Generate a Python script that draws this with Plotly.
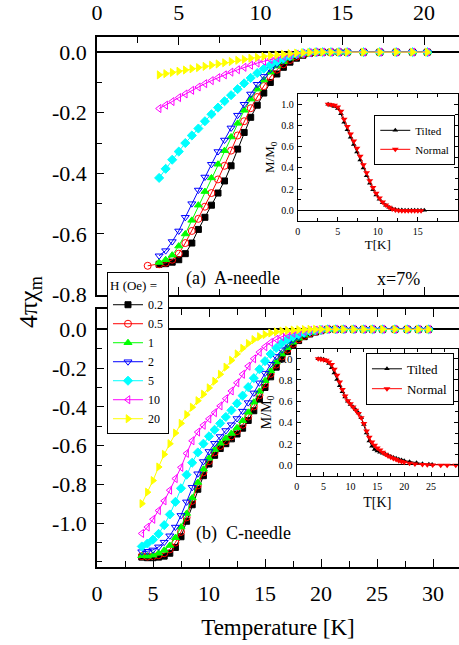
import plotly.graph_objects as go

# ---------------- data ----------------
fields = ["0.2", "0.5", "1", "2", "5", "10", "20"]

# (a) A-needle, temperature grid [K]
T_A = [3.8, 4.2, 4.6, 5.0, 5.4, 5.8, 6.2, 6.6, 7.0, 7.4, 7.8, 8.2, 8.6, 9.0, 9.4,
       9.8, 10.2, 10.6, 11.0, 11.4, 11.8, 12.2, 12.6, 13.0, 13.4,
       13.8, 14.3, 14.8, 15.3, 16.3, 17.3, 18.3, 19.3, 20.2]
T_A05 = [3.1] + T_A

A_02 = [-0.700, -0.698, -0.693, -0.685, -0.665, -0.630, -0.585, -0.545, -0.505, -0.465,
        -0.425, -0.375, -0.320, -0.265, -0.215, -0.175, -0.135, -0.100, -0.072, -0.050,
        -0.033, -0.020, -0.010, -0.004, -0.001, 0, 0, 0, 0, 0, 0, 0, 0, 0]
A_05 = [-0.705, -0.700, -0.695, -0.685, -0.665, -0.630, -0.590, -0.550, -0.510, -0.465,
        -0.420, -0.375, -0.325, -0.275, -0.228, -0.185, -0.148, -0.112, -0.082, -0.058,
        -0.040, -0.026, -0.015, -0.007, -0.003, -0.001, 0, 0, 0, 0, 0, 0, 0, 0, 0]
A_1 = [-0.694, -0.685, -0.670, -0.640, -0.600, -0.555, -0.505, -0.460, -0.415, -0.370,
       -0.325, -0.280, -0.235, -0.192, -0.155, -0.122, -0.092, -0.066, -0.046, -0.031,
       -0.020, -0.011, -0.005, -0.002, 0.0, 0, 0, 0, 0, 0, 0, 0, 0, 0]
A_2 = [-0.672, -0.655, -0.625, -0.590, -0.545, -0.500, -0.455, -0.412, -0.370, -0.328,
       -0.290, -0.250, -0.208, -0.172, -0.138, -0.106, -0.080, -0.057, -0.040, -0.027,
       -0.017, -0.010, -0.005, -0.002, 0.0, 0, 0, 0, 0, 0, 0, 0, 0, 0]
A_5 = [-0.415, -0.385, -0.355, -0.328, -0.300, -0.275, -0.252, -0.228, -0.205, -0.183,
       -0.162, -0.142, -0.122, -0.103, -0.085, -0.069, -0.055, -0.042, -0.031, -0.021,
       -0.013, -0.007, -0.003, -0.001, 0.0, 0, 0, 0, 0, 0, 0, 0, 0, 0]
A_10 = [-0.186, -0.175, -0.163, -0.150, -0.138, -0.126, -0.115, -0.104, -0.094, -0.084,
        -0.075, -0.066, -0.058, -0.050, -0.043, -0.036, -0.030, -0.024, -0.019, -0.014,
        -0.010, -0.007, -0.004, -0.002, 0.0, 0, 0, 0, 0, 0, 0, 0, 0, 0]
A_20 = [-0.075, -0.071, -0.067, -0.063, -0.059, -0.055, -0.051, -0.047, -0.043, -0.039,
        -0.035, -0.031, -0.027, -0.024, -0.020, -0.017, -0.014, -0.011, -0.009, -0.007,
        -0.005, -0.003, -0.002, -0.001, 0.0, 0, 0, 0, 0, 0, 0, 0, 0, 0]

# (b) C-needle, temperature grid [K]
T_C = [4.0, 4.5, 5.0, 5.5, 6.0, 6.5, 7.0, 7.5, 8.0, 8.5, 9.0, 9.5, 10.0, 10.5, 11.0,
       11.5, 12.0, 12.5, 13.0, 13.5, 14.0, 14.5, 15.0, 15.5, 16.0, 16.5, 17.0, 17.5,
       18.0, 18.5, 19.0, 19.5, 20.0,
       20.6, 21.3, 22.0, 22.9, 23.8, 24.6, 25.5, 26.6, 27.7, 28.7, 29.6]

C_02 = [-1.175, -1.178, -1.178, -1.175, -1.170, -1.155, -1.125, -1.070, -0.990, -0.905,
        -0.825, -0.755, -0.695, -0.650, -0.615, -0.590, -0.565, -0.540, -0.510, -0.470,
        -0.420, -0.360, -0.300, -0.245, -0.195, -0.152, -0.115, -0.083, -0.058, -0.038,
        -0.024, -0.014, -0.007, 0, 0, 0, 0, 0, 0, 0, 0, 0, 0, 0]
C_05 = [-1.170, -1.172, -1.170, -1.165, -1.155, -1.135, -1.100, -1.045, -0.970, -0.885,
        -0.805, -0.738, -0.680, -0.635, -0.602, -0.577, -0.552, -0.525, -0.492, -0.450,
        -0.398, -0.340, -0.283, -0.230, -0.182, -0.140, -0.105, -0.075, -0.052, -0.034,
        -0.021, -0.012, -0.006, 0, 0, 0, 0, 0, 0, 0, 0, 0, 0, 0]
C_1 = [-1.168, -1.170, -1.165, -1.155, -1.140, -1.115, -1.075, -1.020, -0.950, -0.870,
       -0.790, -0.722, -0.665, -0.620, -0.588, -0.562, -0.537, -0.508, -0.472, -0.428,
       -0.376, -0.320, -0.265, -0.214, -0.168, -0.128, -0.095, -0.067, -0.046, -0.030,
       -0.018, -0.010, -0.005, 0, 0, 0, 0, 0, 0, 0, 0, 0, 0, 0]
C_2 = [-1.147, -1.145, -1.138, -1.122, -1.098, -1.065, -1.020, -0.960, -0.890, -0.815,
       -0.745, -0.682, -0.630, -0.588, -0.553, -0.522, -0.492, -0.460, -0.422, -0.378,
       -0.328, -0.276, -0.226, -0.180, -0.140, -0.105, -0.077, -0.055, -0.038, -0.025,
       -0.015, -0.008, -0.004, 0, 0, 0, 0, 0, 0, 0, 0, 0, 0, 0]
C_5 = [-1.120, -1.105, -1.085, -1.055, -1.010, -0.955, -0.890, -0.820, -0.750, -0.688,
       -0.635, -0.590, -0.552, -0.518, -0.485, -0.452, -0.418, -0.382, -0.342, -0.298,
       -0.252, -0.206, -0.164, -0.127, -0.096, -0.071, -0.052, -0.037, -0.026, -0.017,
       -0.010, -0.006, -0.003, 0, 0, 0, 0, 0, 0, 0, 0, 0, 0, 0]
C_10 = [-1.053, -1.020, -0.980, -0.935, -0.885, -0.830, -0.770, -0.712, -0.640, -0.575,
        -0.530, -0.495, -0.462, -0.430, -0.395, -0.358, -0.318, -0.276, -0.232, -0.190,
        -0.152, -0.118, -0.090, -0.068, -0.051, -0.038, -0.028, -0.020, -0.014, -0.010,
        -0.006, -0.004, -0.002, 0, 0, 0, 0, 0, 0, 0, 0, 0, 0, 0]
C_20 = [-0.899, -0.840, -0.780, -0.710, -0.645, -0.590, -0.535, -0.485, -0.440, -0.402,
        -0.368, -0.335, -0.302, -0.268, -0.232, -0.195, -0.160, -0.127, -0.098, -0.073,
        -0.053, -0.038, -0.027, -0.019, -0.013, -0.009, -0.006, -0.004, -0.002, -0.001,
        0.0, 0.0, 0.0, 0, 0, 0, 0, 0, 0, 0, 0, 0, 0, 0]

# inset (a): normalised magnetisation
TI_A_norm = [3.8, 4.2, 4.6, 5.0, 5.4, 5.8, 6.2, 6.6, 7.0, 7.4, 7.8, 8.2, 8.6, 9.0, 9.4,
             9.8, 10.2, 10.6, 11.0, 11.4, 11.8, 12.2, 12.6, 13.0, 13.4, 13.8, 14.2,
             14.6, 15.0, 15.4]
MI_A_norm = [1.00, 0.995, 0.99, 0.975, 0.935, 0.86, 0.79, 0.72, 0.655, 0.585, 0.51, 0.43,
             0.355, 0.28, 0.215, 0.16, 0.115, 0.078, 0.05, 0.028, 0.013, 0.004, -0.002,
             -0.004, -0.005, -0.005, -0.005, -0.005, -0.005, -0.004]
TI_A_tilt = [3.8, 4.2, 4.6, 5.0, 5.4, 5.8, 6.2, 6.6, 7.0, 7.4, 7.8, 8.2, 8.6, 9.0, 9.4,
             9.8, 10.2, 10.6, 11.0, 11.4, 11.8, 12.2, 12.6, 13.0, 13.4, 13.8, 14.2,
             14.6, 15.0, 15.4, 15.8]
MI_A_tilt = [1.00, 0.99, 0.98, 0.96, 0.91, 0.83, 0.76, 0.69, 0.62, 0.55, 0.475, 0.40,
             0.325, 0.255, 0.195, 0.145, 0.105, 0.072, 0.047, 0.028, 0.015, 0.008, 0.004,
             0.002, 0.001, 0.0, 0.0, 0.0, 0.0, 0.0, 0.0]

# inset (b)
TI_C_norm = [4.0, 4.5, 5.0, 5.5, 6.0, 6.5, 7.0, 7.5, 8.0, 8.5, 9.0, 9.5, 10.0, 10.5,
             11.0, 11.5, 12.0, 12.5, 13.0, 13.5, 14.0, 14.5, 15.0, 15.5, 16.0, 16.5,
             17.0, 17.5, 18.0, 18.5, 19.0, 19.5, 20.0,
             21.0, 22.0, 23.4, 24.3, 25.3, 26.8, 28.0, 29.6]
MI_C_norm = [1.00, 0.995, 0.99, 0.985, 0.97, 0.945, 0.90, 0.845, 0.78, 0.71, 0.65, 0.605,
             0.575, 0.545, 0.515, 0.485, 0.445, 0.39, 0.32, 0.26, 0.215, 0.185, 0.16,
             0.14, 0.12, 0.10, 0.085, 0.072, 0.06, 0.05, 0.04, 0.032, 0.025,
             0.015, 0.008, 0.004, 0.002, 0.0, -0.003, -0.003, -0.003]
TI_C_tilt = [4.0, 4.5, 5.0, 5.5, 6.0, 6.5, 7.0, 7.5, 8.0, 8.5, 9.0, 9.5, 10.0, 10.5,
             11.0, 11.5, 12.0, 12.5, 13.0, 13.5, 14.0, 14.5, 15.0, 15.5, 16.0, 16.5,
             17.0, 17.5, 18.0, 18.5, 19.0, 19.5, 20.0,
             21.0, 22.3, 23.4, 24.6, 25.2]
MI_C_tilt = [1.00, 1.00, 0.995, 0.98, 0.955, 0.915, 0.865, 0.805, 0.745, 0.69, 0.64, 0.60,
             0.57, 0.545, 0.52, 0.49, 0.445, 0.38, 0.30, 0.225, 0.175, 0.145, 0.13, 0.12,
             0.11, 0.10, 0.09, 0.08, 0.07, 0.062, 0.054, 0.047, 0.04,
             0.03, 0.02, 0.012, 0.006, 0.003]

y_main_ticks_a = [-0.8, -0.6, -0.4, -0.2, 0.0]
y_main_ticks_b = [-1.0, -0.8, -0.6, -0.4, -0.2, 0.0]
inset_y_ticks = [0.0, 0.2, 0.4, 0.6, 0.8, 1.0]

# ---------------- style ----------------
colors = ["#000000", "#FF0000", "#00FF00", "#0000FF", "#00FFFF", "#FF00FF", "#FFFF00"]
symbols = ["square", "circle-open", "triangle-up", "triangle-down-open", "diamond",
           "triangle-left-open", "triangle-right"]
sizes = [6, 7, 7, 7, 7, 7, 7]
SERIF = "Liberation Serif"

def fmt(v):
    return "%.1f" % v

fig = go.Figure()

A_vals = [A_02, A_05, A_1, A_2, A_5, A_10, A_20]
C_vals = [C_02, C_05, C_1, C_2, C_5, C_10, C_20]

for i, f in enumerate(fields):
    xs = T_A05 if i == 1 else T_A
    fig.add_trace(go.Scatter(
        x=xs, y=A_vals[i], xaxis="x", yaxis="y", mode="lines+markers", name=f,
        showlegend=False, line=dict(color=colors[i], width=1),
        marker=dict(symbol=symbols[i], size=sizes[i], color=colors[i],
                    line=dict(color=colors[i], width=1))))

for i, f in enumerate(fields):
    fig.add_trace(go.Scatter(
        x=T_C, y=C_vals[i], xaxis="x2", yaxis="y2", mode="lines+markers", name=f,
        showlegend=True, legend="legend", line=dict(color=colors[i], width=1),
        marker=dict(symbol=symbols[i], size=sizes[i], color=colors[i],
                    line=dict(color=colors[i], width=1))))

# insets
fig.add_trace(go.Scatter(x=TI_A_tilt, y=MI_A_tilt, xaxis="x3", yaxis="y3",
                         mode="lines+markers", name="Tilted", legend="legend2",
                         line=dict(color="black", width=1),
                         marker=dict(symbol="triangle-up", size=5, color="black")))
fig.add_trace(go.Scatter(x=TI_A_norm, y=MI_A_norm, xaxis="x3", yaxis="y3",
                         mode="lines+markers", name="Normal", legend="legend2",
                         line=dict(color="red", width=1),
                         marker=dict(symbol="triangle-down", size=6, color="red")))
fig.add_trace(go.Scatter(x=TI_C_tilt, y=MI_C_tilt, xaxis="x4", yaxis="y4",
                         mode="lines+markers", name="Tilted", legend="legend3",
                         line=dict(color="black", width=1),
                         marker=dict(symbol="triangle-up", size=5, color="black")))
fig.add_trace(go.Scatter(x=TI_C_norm, y=MI_C_norm, xaxis="x4", yaxis="y4",
                         mode="lines+markers", name="Normal", legend="legend3",
                         line=dict(color="red", width=1),
                         marker=dict(symbol="triangle-down", size=6, color="red")))

axis_common = dict(showline=True, linecolor="black", linewidth=1.5, showgrid=False,
                   ticks="inside", tickcolor="black", tickwidth=1.2)

fig.update_layout(
    width=459, height=645,
    margin=dict(l=97, r=0, t=34, b=78),
    plot_bgcolor="white", paper_bgcolor="white",
    font=dict(family=SERIF, color="black"),
    xaxis=dict(axis_common, domain=[0, 1], anchor="y", side="top", range=[0, 22.14],
               dtick=5, tick0=0, ticklen=8, mirror="ticks", zeroline=False,
               minor=dict(dtick=2.5, ticks="inside", ticklen=6, tickcolor="black"),
               tickfont=dict(family=SERIF, size=22), ticklabelstandoff=6),
    yaxis=dict(axis_common, domain=[0.514, 1], anchor="x", range=[-0.8, 0.05],
               tickmode="array", tickvals=y_main_ticks_a,
               ticktext=[fmt(v) for v in y_main_ticks_a], ticklen=7,
               minor=dict(dtick=0.1, ticks="inside", ticklen=5, tickcolor="black"),
               zeroline=True, zerolinecolor="black", zerolinewidth=1.5,
               tickfont=dict(family=SERIF, size=22), ticklabelstandoff=4),
    xaxis2=dict(axis_common, domain=[0, 1], anchor="y2", range=[0, 32.32],
                dtick=5, tick0=0, ticklen=8, mirror="ticks", zeroline=False,
                minor=dict(dtick=2.5, ticks="inside", ticklen=6, tickcolor="black"),
                tickfont=dict(family=SERIF, size=22), ticklabelstandoff=6,
                title=dict(text="Temperature [K]", font=dict(family=SERIF, size=23),
                           standoff=14)),
    yaxis2=dict(axis_common, domain=[0, 0.4865], anchor="x2", range=[-1.226, 0.104],
                tickmode="array", tickvals=y_main_ticks_b,
                ticktext=[fmt(v) for v in y_main_ticks_b], ticklen=7,
                minor=dict(dtick=0.1, ticks="inside", ticklen=5, tickcolor="black"),
                zeroline=True, zerolinecolor="black", zerolinewidth=1.5,
                tickfont=dict(family=SERIF, size=22), ticklabelstandoff=4),
    xaxis3=dict(axis_common, domain=[0.5544, 0.997], anchor="y3", range=[0, 20],
                tickmode="array", tickvals=[0, 5, 10, 15], ticklen=4, mirror="ticks",
                linewidth=1, zeroline=False,
                minor=dict(dtick=2.5, ticks="inside", ticklen=3, tickcolor="black"),
                tickfont=dict(family=SERIF, size=10), ticklabelstandoff=1,
                title=dict(text="T[K]", font=dict(family=SERIF, size=13), standoff=3)),
    yaxis3=dict(axis_common, domain=[0.653, 0.893], anchor="x3", range=[-0.1, 1.1],
                tickmode="array", tickvals=inset_y_ticks,
                ticktext=[fmt(v) for v in inset_y_ticks], ticklen=4, mirror="ticks",
                linewidth=1,
                minor=dict(dtick=0.1, ticks="inside", ticklen=3, tickcolor="black"),
                zeroline=True, zerolinecolor="black", zerolinewidth=1,
                tickfont=dict(family=SERIF, size=10), ticklabelstandoff=1,
                title=dict(text="M/M<sub>0</sub>", font=dict(family=SERIF, size=13),
                           standoff=3)),
    xaxis4=dict(axis_common, domain=[0.5517, 0.997], anchor="y4", range=[0, 30],
                tickmode="array", tickvals=[0, 5, 10, 15, 20, 25], ticklen=4,
                mirror="ticks", linewidth=1, zeroline=False,
                minor=dict(dtick=2.5, ticks="inside", ticklen=3, tickcolor="black"),
                tickfont=dict(family=SERIF, size=10), ticklabelstandoff=1,
                title=dict(text="T[K]", font=dict(family=SERIF, size=14), standoff=6)),
    yaxis4=dict(axis_common, domain=[0.1726, 0.411], anchor="x4", range=[-0.1, 1.09],
                tickmode="array", tickvals=inset_y_ticks,
                ticktext=[fmt(v) for v in inset_y_ticks], ticklen=4, mirror="ticks",
                linewidth=1,
                minor=dict(dtick=0.1, ticks="inside", ticklen=3, tickcolor="black"),
                zeroline=True, zerolinecolor="black", zerolinewidth=1,
                tickfont=dict(family=SERIF, size=11), ticklabelstandoff=1,
                title=dict(text="M/M<sub>0</sub>", font=dict(family=SERIF, size=14),
                           standoff=3)),
    legend=dict(x=0.0276, y=0.556, xanchor="left", yanchor="top",
                bgcolor="white", bordercolor="black", borderwidth=1,
                font=dict(family=SERIF, size=12),
                title=dict(text="H (Oe) =", font=dict(family=SERIF, size=13)),
                tracegroupgap=0, itemwidth=30),
    legend2=dict(x=0.766, y=0.806, xanchor="left", yanchor="middle",
                 bgcolor="white", bordercolor="black", borderwidth=1,
                 font=dict(family=SERIF, size=11), itemwidth=30),
    legend3=dict(x=0.743, y=0.355, xanchor="left", yanchor="middle",
                 bgcolor="white", bordercolor="black", borderwidth=1,
                 font=dict(family=SERIF, size=13), itemwidth=30),
    annotations=[
        dict(text="4πχ<sub>m</sub>", xref="paper", yref="paper", x=-0.185, y=0.50,
             textangle=-90, showarrow=False, font=dict(family=SERIF, size=26),
             xanchor="center", yanchor="middle"),
        dict(text="(a)  A-needle", xref="paper", yref="paper", x=0.3757, y=0.544,
             showarrow=False, font=dict(family=SERIF, size=18),
             xanchor="center", yanchor="middle"),
        dict(text="x=7%", xref="paper", yref="paper", x=0.8315, y=0.544,
             showarrow=False, font=dict(family=SERIF, size=18),
             xanchor="center", yanchor="middle"),
        dict(text="(b)  C-needle", xref="paper", yref="paper", x=0.406, y=0.0638,
             showarrow=False, font=dict(family=SERIF, size=18),
             xanchor="center", yanchor="middle"),
    ],
)

fig.write_html("out.html")
